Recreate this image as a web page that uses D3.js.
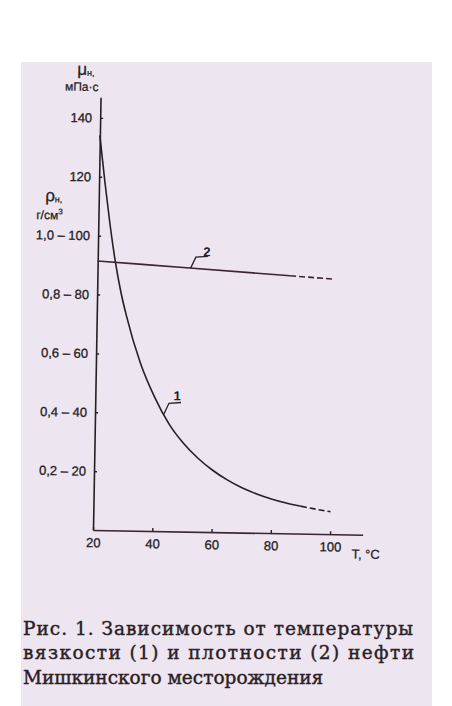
<!DOCTYPE html>
<meta charset="utf-8">
<script src="https://d3js.org/d3.v7.min.js"></script>
<body style="margin:0;background:#fff">
<svg width="452" height="706"></svg>
<script>
// вязкость нефти (кривая 1), мПа·с
var visT  = [20, 22, 24, 26, 28, 30, 35, 40, 45, 50, 55, 60, 65, 70, 75, 80, 85, 90, 95, 100];
var visMu = [134, 118, 103.5, 91, 81, 73, 57, 45.5, 36.5, 30, 25, 21, 17.8, 15.2, 13.2, 11.6, 10.3, 9.3, 8.4, 7.6];
var visSolidTo = 90;

// плотность нефти (кривая 2), г/см3
var denT   = [20, 50, 85, 100];
var denRho = [0.914, 0.896, 0.875, 0.866];
var denSolidTo = 85;

var yTicks  = [20, 40, 60, 80, 100, 120, 140];
var yLabels = ["0,2 – 20", "0,4 – 40", "0,6 – 60", "0,8 – 80", "1,0 – 100", "120", "140"];
var xTicks  = [20, 40, 60, 80, 100];

var caption = ["Рис. 1. Зависимость от температуры",
               "вязкости (1) и плотности (2) нефти",
               "Мишкинского месторождения"];

var ink = "#252022", ink2 = "#3b2530";
var sans = "Liberation Sans, Arial, sans-serif";
var svg = d3.select("svg");

// лист
svg.append("rect").attr("x", 21).attr("y", 62).attr("width", 411).attr("height", 644)
    .attr("fill", "#ede5f0");

// скан слегка повёрнут
var g = svg.append("g").attr("transform", "rotate(1,93,530)");

var x = d3.scaleLinear().domain([20, 111]).range([93, 362.7]);
var y = d3.scaleLinear().domain([0, 147]).range([530, 97.2]);

var yAxis = d3.axisLeft(y).tickValues(yTicks)
    .tickFormat(function (d, i) { return yLabels[i]; })
    .tickSizeInner(-3).tickSizeOuter(0).tickPadding(8);
var xAxis = d3.axisBottom(x).tickValues(xTicks)
    .tickSizeInner(-3).tickSizeOuter(0).tickPadding(8);

var ga = g.append("g").attr("transform", "translate(93,0)").call(yAxis);
var gb = g.append("g").attr("transform", "translate(0,530)").call(xAxis);
[ga, gb].forEach(function (a) {
    a.attr("font-family", null).attr("font-size", null);
    a.select(".domain").attr("stroke", ink).attr("stroke-width", 1.6);
    a.selectAll(".tick line").attr("stroke", ink).attr("stroke-width", 1.4);
    a.selectAll("text").attr("fill", ink).attr("stroke", ink).attr("stroke-width", 0.3)
        .style("font-family", sans).style("font-size", "13px");
});
gb.select(".domain").attr("stroke", ink2);

// подписи осей
function label(px, py, txt, size) {
    return g.append("text").attr("x", px).attr("y", py).attr("text-anchor", "middle")
        .attr("fill", ink).attr("stroke", ink).attr("stroke-width", 0.25)
        .style("font-family", sans).style("font-size", size + "px").text(txt);
}
var mu = label(78, 75, "μ", 17);
mu.append("tspan").attr("dy", 1).style("font-size", "9px").text("н,");
label(74, 91, "мПа·с", 12);
var rho = label(48, 202, "ρ", 17);
rho.append("tspan").attr("dy", 1).style("font-size", "9px").text("н,");
var gcm = label(44, 220, "г/см", 12);
gcm.append("tspan").attr("dy", -5).style("font-size", "8px").text("3");
label(366, 554, "T, °C", 13);

// кривые
var line = d3.line().x(function (d) { return x(d[0]); }).y(function (d) { return y(d[1]); })
    .curve(d3.curveMonotoneX);

function drawSeries(ts, vs, cut, color) {
    var pts = ts.map(function (t, i) { return [t, vs[i]]; });
    g.append("path").datum(pts.filter(function (p) { return p[0] <= cut; }))
        .attr("d", line).attr("fill", "none").attr("stroke", color).attr("stroke-width", 1.6);
    g.append("path").datum(pts.filter(function (p) { return p[0] >= cut; }))
        .attr("d", line).attr("fill", "none").attr("stroke", color).attr("stroke-width", 1.6)
        .attr("stroke-dasharray", "6,3");
}
drawSeries(visT, visMu, visSolidTo, ink);
drawSeries(denT, denRho.map(function (r) { return r * 100; }), denSolidTo, ink2);

// выноски с номерами
function valueAt(ts, vs, t) {
    var i = Math.max(1, d3.bisectLeft(ts, t));
    var k = (t - ts[i - 1]) / (ts[i] - ts[i - 1]);
    return vs[i - 1] + k * (vs[i] - vs[i - 1]);
}
function callout(t, v, num, tx, ty) {
    var px = x(t), py = y(v);
    g.append("path").attr("d", "M" + px + "," + py + "l5,-11l12,-1")
        .attr("fill", "none").attr("stroke", ink).attr("stroke-width", 1.3);
    g.append("text").attr("x", px + tx).attr("y", py + ty).attr("text-anchor", "middle")
        .attr("fill", ink).style("font-family", sans)
        .style("font-size", "13px").style("font-weight", "bold").text(num);
}
callout(43.2, valueAt(visT, visMu, 43.2), "1", 13, -14);
callout(51.4, valueAt(denT, denRho, 51.4) * 100, "2", 16, -12);

// подпись рисунка
var widths = [390, 391, null];
caption.forEach(function (s, i) {
    var t = svg.append("text").attr("x", 23).attr("y", 635 + i * 24.3).attr("fill", "#2a2024")
        .attr("stroke", "#2a2024").attr("stroke-width", 0.4)
        .style("font-family", "DejaVu Serif, serif").style("font-size", "18.5px").text(s);
    if (widths[i]) t.attr("textLength", widths[i]).attr("lengthAdjust", "spacing");
});
</script>
</body>
